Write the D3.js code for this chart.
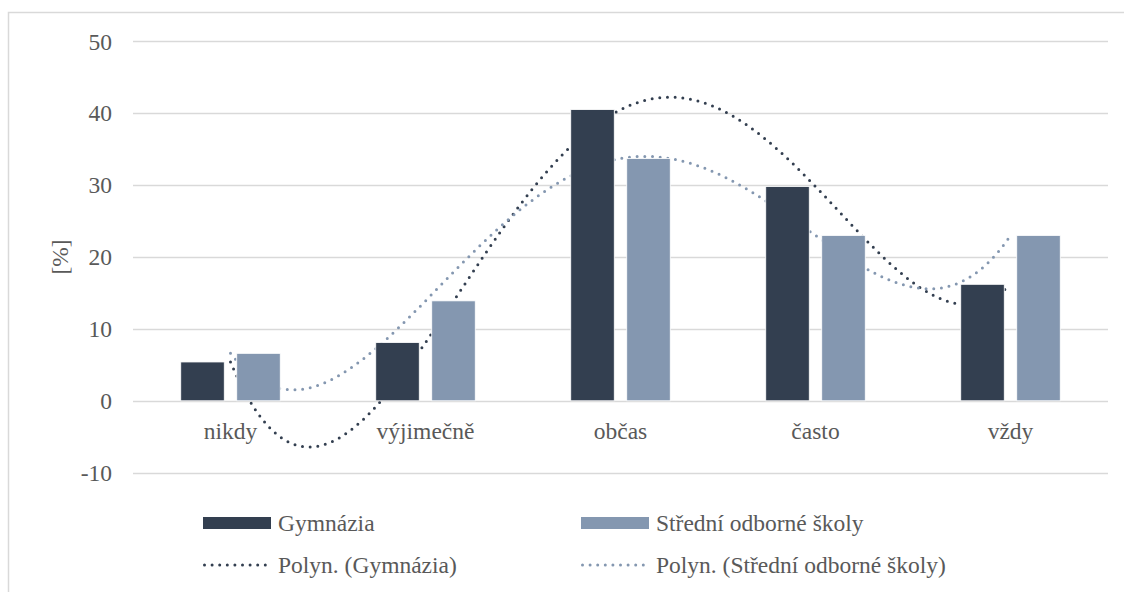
<!DOCTYPE html>
<html>
<head>
<meta charset="utf-8">
<script src="https://cdn.jsdelivr.net/npm/d3@7"></script>
<style>
  body { margin: 0; background: #fff; }
  svg { display: block; }
</style>
</head>
<body>
<div id="chart"></div>
<script>
(function() {

	// data
	var categories = ["nikdy", "výjimečně", "občas", "často", "vždy"];
	var gymnazia = [5.4, 8.1, 40.5, 29.8, 16.2];
	var sos = [6.6, 13.9, 33.7, 23.0, 23.0];
	var seriesNames = ["Gymnázia", "Střední odborné školy"];
	var trendNames = ["Polyn. (Gymnázia)", "Polyn. (Střední odborné školy)"];
	var yTicks = [-10, 0, 10, 20, 30, 40, 50];
	var trendOrder = 4;

	var colors = ["#333F50", "#8497B0"];
	var W = 1124, H = 592;
	var plot = { left: 133, right: 1108, top: 41.3, bottom: 472.7 };
	var fontSize = "23.5px";
	var fontFam = "'Liberation Serif'";
	var textCol = "#595959";

	var svg = d3.select("#chart")
		.append("svg")
		.attr("width", W)
		.attr("height", H)
		.style("font-family", fontFam);

	function styleText(sel) {
		sel.attr("font-family", null)
			.style("font-family", fontFam)
			.style("font-size", fontSize)
			.style("fill", textCol);
		return sel;
	}

	// chart frame (right and bottom run off the picture)
	svg.append("path")
		.attr("d", "M8.5," + H + "V12.5H" + W)
		.attr("fill", "none")
		.attr("stroke", "#D9D9D9")
		.attr("stroke-width", 1.5);

	var y = d3.scaleLinear()
		.domain([d3.min(yTicks), d3.max(yTicks)])
		.range([plot.bottom, plot.top]);

	var x0 = d3.scaleBand()
		.domain(categories)
		.range([plot.left, plot.right])
		.padding(0);

	var groupW = 99.5;
	var x1 = d3.scaleBand()
		.domain([0, 1])
		.range([0, groupW])
		.paddingInner(0.223)
		.paddingOuter(0);

	//gridlines
	svg.append("g")
		.selectAll("line")
		.data(yTicks)
		.enter().append("line")
		.attr("x1", plot.left)
		.attr("x2", plot.right)
		.attr("y1", function(d) { return Math.round(y(d)) + 0.5; })
		.attr("y2", function(d) { return Math.round(y(d)) + 0.5; })
		.attr("stroke", "#D9D9D9")
		.attr("stroke-width", 1.3);

	// y axis labels
	var yAxis = d3.axisLeft(y)
		.tickValues(yTicks)
		.tickFormat(function(d) { return String(d); })
		.tickSize(0)
		.tickPadding(0);
	var gy = svg.append("g")
		.attr("transform", "translate(112,0)")
		.call(yAxis);
	gy.attr("font-family", null);
	gy.select(".domain").remove();
	styleText(gy.selectAll("text")).attr("dy", "0.33em");

	// category labels
	var xAxis = d3.axisBottom(x0).tickSize(0).tickPadding(0);
	var gx = svg.append("g")
		.attr("transform", "translate(0,431)")
		.call(xAxis);
	gx.attr("font-family", null);
	gx.select(".domain").remove();
	styleText(gx.selectAll("text")).attr("dy", "0.33em");

	// axis title
	styleText(svg.append("text"))
		.attr("transform", "translate(60," + (plot.top + plot.bottom) / 2 + ") rotate(-90)")
		.attr("text-anchor", "middle")
		.attr("dy", "0.33em")
		.text("[%]");

	// polynomial trendline (least squares, like the spreadsheet does)
	function polyfit(xs, ys, order) {
		var n = order + 1, A = [], b = [];
		for (var r = 0; r < n; r++) {
			A.push([]);
			b.push(0);
			for (var c = 0; c < n; c++) {
				var s = 0;
				for (var k = 0; k < xs.length; k++) s += Math.pow(xs[k], r + c);
				A[r].push(s);
			}
			for (var k2 = 0; k2 < xs.length; k2++) b[r] += ys[k2] * Math.pow(xs[k2], r);
		}
		// gaussian elimination
		for (var i = 0; i < n; i++) {
			var p = i;
			for (var j = i + 1; j < n; j++) if (Math.abs(A[j][i]) > Math.abs(A[p][i])) p = j;
			var t = A[i]; A[i] = A[p]; A[p] = t;
			var tb = b[i]; b[i] = b[p]; b[p] = tb;
			for (var j2 = i + 1; j2 < n; j2++) {
				var f = A[j2][i] / A[i][i];
				for (var c2 = i; c2 < n; c2++) A[j2][c2] -= f * A[i][c2];
				b[j2] -= f * b[i];
			}
		}
		var coef = new Array(n).fill(0);
		for (var i2 = n - 1; i2 >= 0; i2--) {
			var s2 = b[i2];
			for (var c3 = i2 + 1; c3 < n; c3++) s2 -= A[i2][c3] * coef[c3];
			coef[i2] = s2 / A[i2][i2];
		}
		return function(xv) {
			var v = 0;
			for (var q = 0; q < n; q++) v += coef[q] * Math.pow(xv, q);
			return v;
		};
	}

	var mid = (categories.length + 1) / 2;
	var xIdx = categories.map(function(d, i) { return i + 1 - mid; });
	var xt = d3.scaleLinear()
		.domain([xIdx[0], xIdx[xIdx.length - 1]])
		.range([x0(categories[0]) + x0.bandwidth() / 2, x0(categories[categories.length - 1]) + x0.bandwidth() / 2]);

	var line = d3.line()
		.x(function(d) { return xt(d[0]); })
		.y(function(d) { return y(d[1]); });

	[gymnazia, sos].forEach(function(vals, si) {
		var fit = polyfit(xIdx, vals, trendOrder);
		var pts = d3.range(xIdx[0], xIdx[xIdx.length - 1] + 0.0001, 0.02).map(function(t) { return [t, fit(t)]; });
		svg.append("path")
			.attr("d", line(pts))
			.attr("fill", "none")
			.attr("stroke", colors[si])
			.attr("stroke-width", 3)
			.attr("stroke-linecap", "round")
			.attr("stroke-dasharray", "0 7.7");
	});

	// bars
	var offset = (x0.bandwidth() - groupW) / 2;
	[gymnazia, sos].forEach(function(vals, si) {
		svg.append("g")
			.selectAll("rect")
			.data(vals)
			.enter().append("rect")
			.attr("x", function(d, i) { return x0(categories[i]) + offset + x1(si); })
			.attr("width", x1.bandwidth())
			.attr("y", function(d) { return y(d); })
			.attr("height", function(d) { return y(0) - y(d); })
			.attr("fill", colors[si])
			.attr("stroke", "#fff")
			.attr("stroke-width", 0.8);
	});

	// legend
	var legendCols = [203, 581];
	var rowY = [523, 565];
	seriesNames.forEach(function(name, si) {
		var lx = legendCols[si];
		svg.append("rect")
			.attr("x", lx)
			.attr("y", rowY[0] - 6)
			.attr("width", 68)
			.attr("height", 12)
			.attr("fill", colors[si]);
		styleText(svg.append("text"))
			.attr("x", lx + 75)
			.attr("y", rowY[0])
			.attr("dy", "0.33em")
			.text(name);
		svg.append("line")
			.attr("x1", lx + 1.5)
			.attr("x2", lx + 68)
			.attr("y1", rowY[1])
			.attr("y2", rowY[1])
			.attr("stroke", colors[si])
			.attr("stroke-width", 3)
			.attr("stroke-linecap", "round")
			.attr("stroke-dasharray", "0 7.6");
		styleText(svg.append("text"))
			.attr("x", lx + 75)
			.attr("y", rowY[1])
			.attr("dy", "0.33em")
			.text(trendNames[si]);
	});

})();
</script>
</body>
</html>
